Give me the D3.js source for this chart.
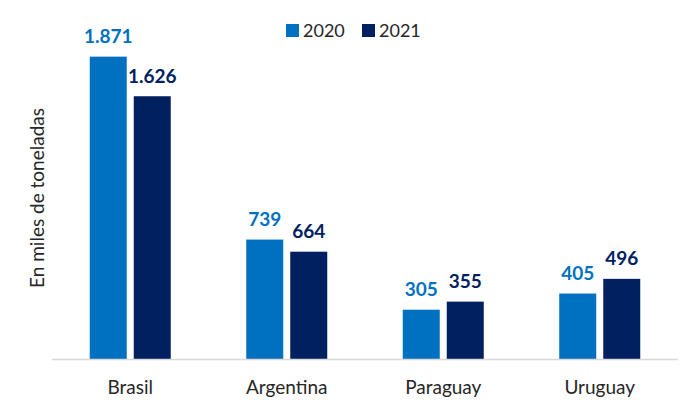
<!DOCTYPE html>
<html><head><meta charset="utf-8">
<script src="https://cdn.jsdelivr.net/npm/d3@7"></script>
<style>body{margin:0;background:#fff}svg{display:block}</style>
</head><body>
<svg id="c" width="700" height="420"></svg>
<script>
const categories = ["Brasil", "Argentina", "Paraguay", "Uruguay"];
const seriesNames = ["2020", "2021"];
const values2020 = [1871, 739, 305, 405];
const values2021 = [1626, 664, 355, 496];
const valueLabels2020 = ["1.871", "739", "305", "405"];
const valueLabels2021 = ["1.626", "664", "355", "496"];
const colors = ["#0070C0", "#002060"];
const yTitle = "En miles de toneladas";

const svg = d3.select("#c");
const font = "Lato, 'Open Sans', sans-serif";
const x0 = d3.scaleBand().domain(categories).range([52, 678]).paddingInner(0).paddingOuter(0);
const barW = 37, gap = 7;
const x1 = d3.scaleOrdinal().domain(seriesNames).range([-(barW + gap / 2), gap / 2]);
const y = d3.scaleLinear().domain([0, 2000]).range([359, 35.8]);

const data = [values2020, values2021];
const labels = [valueLabels2020, valueLabels2021];

seriesNames.forEach((s, si) => {
  const g = svg.append("g");
  g.selectAll("rect").data(categories).join("rect")
    .attr("x", c => x0(c) + x0.bandwidth() / 2 + x1(s))
    .attr("y", (c, i) => y(data[si][i]))
    .attr("width", barW)
    .attr("height", (c, i) => y(0) - y(data[si][i]))
    .attr("fill", colors[si]);
  g.selectAll("text").data(categories).join("text")
    .attr("x", c => x0(c) + x0.bandwidth() / 2 + x1(s) + barW / 2)
    .attr("y", (c, i) => y(data[si][i]) - 13.5)
    .attr("text-anchor", "middle")
    .attr("font-family", font).attr("font-weight", "bold").attr("font-size", 19)
    .attr("fill", colors[si])
    .text((c, i) => labels[si][i]);
});

// x axis
const xAxis = svg.append("g").attr("transform", `translate(0,${y(0)})`)
  .call(d3.axisBottom(x0).tickSize(0).tickPadding(22));
xAxis.select(".domain").attr("stroke", "#d9d9d9").attr("stroke-width", 1.5).attr("d", "M52,0.5H678");
xAxis.selectAll("text").attr("font-family", font).attr("font-size", 19).attr("fill", "#262626");

// y title
svg.append("text")
  .attr("transform", "translate(44,198) rotate(-90)")
  .attr("text-anchor", "middle")
  .attr("font-family", font).attr("font-size", 19).attr("fill", "#262626")
  .text(yTitle);

// legend
const legX = [286, 362];
seriesNames.forEach((s, i) => {
  svg.append("rect").attr("x", legX[i]).attr("y", 24).attr("width", 13).attr("height", 13).attr("fill", colors[i]);
  svg.append("text").attr("x", legX[i] + 17).attr("y", 37)
    .attr("font-family", font).attr("font-size", 18).attr("fill", "#262626").text(s);
});
</script>
</body></html>
